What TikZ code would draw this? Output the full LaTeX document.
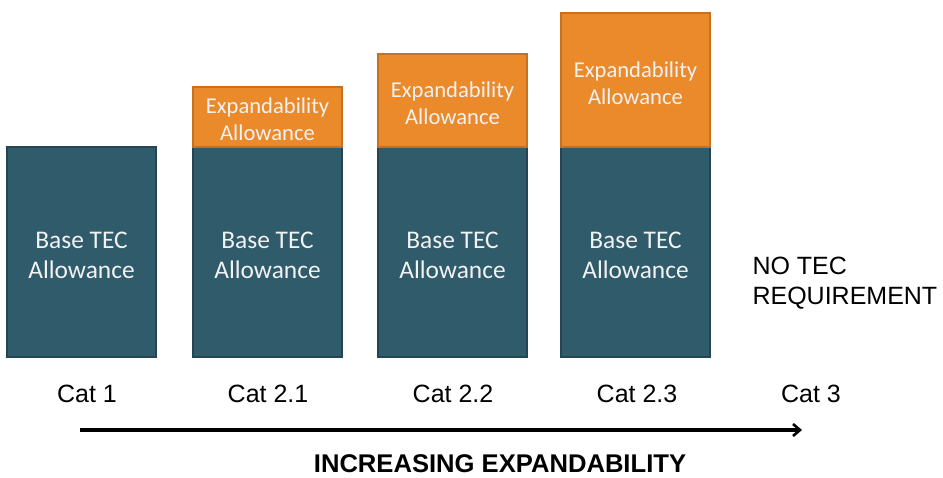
\documentclass[tikz,border=0pt]{standalone}
\usepackage{fontspec}
\setmainfont{Liberation Sans}
\newfontfamily\calib{Carlito}
\usetikzlibrary{arrows.meta}
\definecolor{baseblue}{RGB}{47,91,106}
\definecolor{baseedge}{RGB}{36,70,82}
\definecolor{expor}{RGB}{234,138,42}
\definecolor{expedge}{RGB}{200,112,30}
\definecolor{boxtext}{RGB}{242,242,242}
\tikzset{
  basebox/.style={fill=baseblue, draw=baseedge, line width=1.2pt},
  expbox/.style={fill=expor, draw=expedge, line width=1.2pt},
  basetext/.style={text=boxtext, font=\calib\fontsize{25.4}{30}\selectfont, align=center},
  exptext/.style={text=boxtext, font=\calib\fontsize{22.6}{27}\selectfont, align=center},
  catlabel/.style={font=\fontsize{25}{30}\selectfont, text=black},
}
\begin{document}
\begin{tikzpicture}[x=1pt,y=-1pt]
\useasboundingbox (0,0) rectangle (943,477);
% Cat 1
\draw[basebox] (7,147) rectangle (156,357);
\node[basetext] (b1) at (81.5,255) {Base TEC\\Allowance};
% Cat 2.1
\draw[basebox] (193,147) rectangle (342,357);
\draw[expbox] (193,87) rectangle (342,147);
\node[basetext] (b2) at (267.5,255) {Base TEC\\Allowance};
\node[exptext] (e2) at (267.5,119) {Expandability\\Allowance};
% Cat 2.2
\draw[basebox] (378,147) rectangle (527,357);
\draw[expbox] (378,54) rectangle (527,147);
\node[basetext] (b3) at (452.5,255) {Base TEC\\Allowance};
\node[exptext] (e3) at (452.5,103) {Expandability\\Allowance};
% Cat 2.3
\draw[basebox] (561,147) rectangle (710,357);
\draw[expbox] (561,13) rectangle (710,147);
\node[basetext] (b4) at (635.5,255) {Base TEC\\Allowance};
\node[exptext] (e4) at (635.5,83) {Expandability\\Allowance};
% Cat 3
\node[catlabel, align=left, anchor=west] (nt) at (749,283) {NO TEC\\REQUIREMENT};
% category labels
\node[catlabel] (c1) at (87,394) {Cat 1};
\node[catlabel] (c2) at (268,394) {Cat 2.1};
\node[catlabel] (c3) at (453,394) {Cat 2.2};
\node[catlabel] (c4) at (637,394) {Cat 2.3};
\node[catlabel] (c5) at (811,394) {Cat 3};
% axis arrow
\coordinate (as) at (80,430);
\coordinate (ae) at (802,430);
\draw[line width=3.2pt, -{Straight Barb[length=7pt,width=12pt,line width=2.6pt]}] (as) -- (ae);
\node[font=\bfseries\fontsize{25.6}{30}\selectfont, inner sep=0pt] (ax) at (500,464) {INCREASING EXPANDABILITY};
\end{tikzpicture}
\end{document}
